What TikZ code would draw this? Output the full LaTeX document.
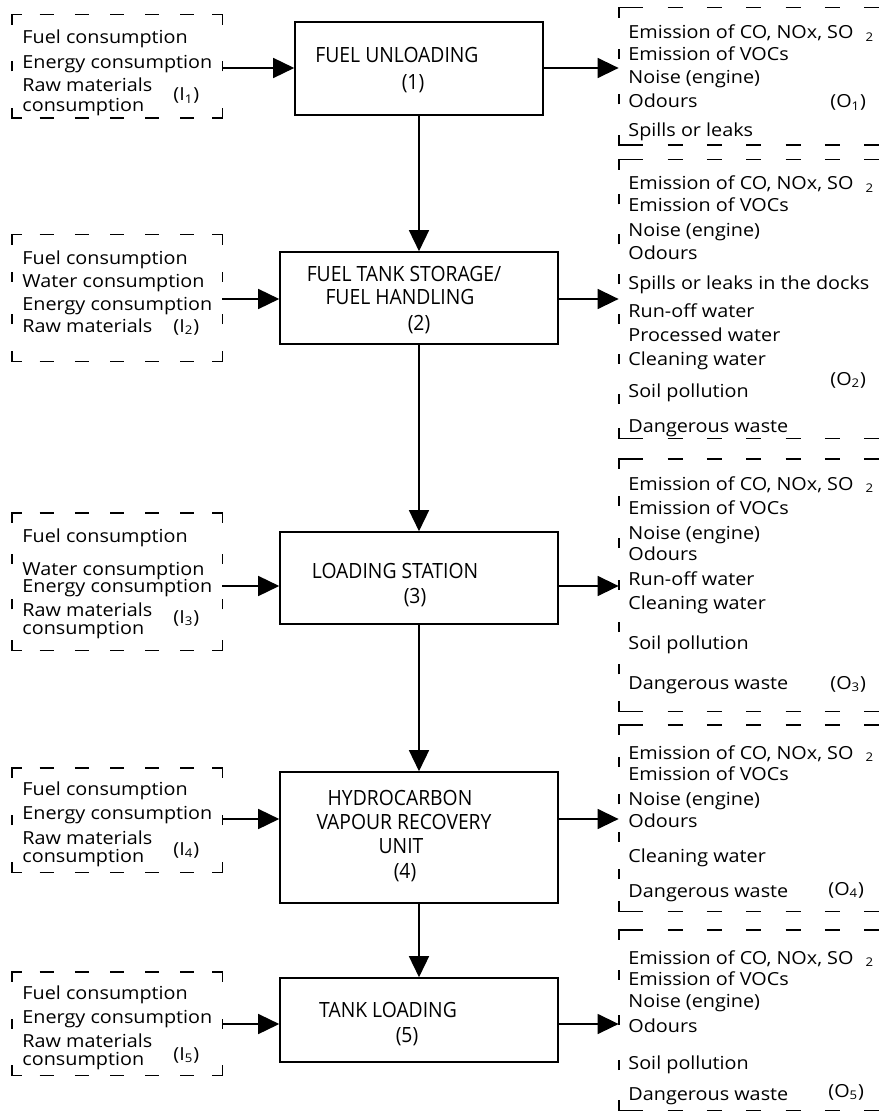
\documentclass[tikz,border=0pt]{standalone}
\usepackage{fontspec}
\setmainfont{Open Sans}[FakeStretch=1.1]
\newfontfamily\procfamily{Open Sans}[FakeStretch=0.92]
\usetikzlibrary{arrows.meta,fit,calc}

\newcommand{\itemfont}{\fontsize{9}{10}\selectfont}
\newcommand{\procfont}{\procfamily\fontsize{10.5}{12}\selectfont}
\newcommand{\SOtwo}{\hspace{6pt}\textsubscript{2}}

\tikzset{
  procbox/.style  = {draw, line width=0.8pt, inner sep=0pt},
  proctext/.style = {font=\procfont, anchor=base, inner sep=0pt},
  itemtext/.style = {font=\itemfont, anchor=base west, inner sep=0pt},
  group/.style    = {inner sep=0pt},
  frame/.style    = {line width=0.9pt},
  flow/.style     = {-{Triangle[length=10.5pt,width=10pt]}, line width=0.75pt},
}
% dashed input frame: #1 node, #2 dashes along top/bottom, #3 dashes down the sides
\newcommand{\inframe}[3]{%
  \draw[frame] ([yshift=-5pt]#1.north west) -- (#1.north west) -- ([xshift=5pt]#1.north west);
  \draw[frame] ([xshift=-5pt]#1.north east) -- (#1.north east) -- ([yshift=-5pt]#1.north east);
  \draw[frame] ([yshift=5pt]#1.south west) -- (#1.south west) -- ([xshift=5pt]#1.south west);
  \draw[frame] ([xshift=-5pt]#1.south east) -- (#1.south east) -- ([yshift=5pt]#1.south east);
  \foreach \k in {1,...,#2} {
    \pgfmathsetmacro\f{\k/(#2+1)}
    \draw[frame] ($(#1.north west)!\f!(#1.north east)$) +(-3.5pt,0pt) -- +(3.5pt,0pt);
    \draw[frame] ($(#1.south west)!\f!(#1.south east)$) +(-3.5pt,0pt) -- +(3.5pt,0pt);
  }
  \foreach \k in {1,...,#3} {
    \pgfmathsetmacro\f{\k/(#3+1)}
    \draw[frame] ($(#1.north west)!\f!(#1.south west)$) +(0pt,-2.5pt) -- +(0pt,2.5pt);
    \draw[frame] ($(#1.north east)!\f!(#1.south east)$) +(0pt,-2.5pt) -- +(0pt,2.5pt);
  }}
% dashed output frame, open to the right: #1 node, #2 dashes down the left side
\newcommand{\outframe}[2]{%
  \draw[frame] ([yshift=-5pt]#1.north west) -- (#1.north west) -- ([xshift=12pt]#1.north west);
  \draw[frame] ([yshift=5pt]#1.south west) -- (#1.south west) -- ([xshift=12pt]#1.south west);
  \foreach \k in {0,...,5} {
    \draw[frame] ([xshift={24.5pt+19.65pt*\k}]#1.north west) -- +(7.5pt,0pt);
    \draw[frame] ([xshift={24.5pt+19.65pt*\k}]#1.south west) -- +(7.5pt,0pt);
  }
  \foreach \k in {1,...,#2} {
    \pgfmathsetmacro\f{\k/(#2+1)}
    \draw[frame] ($(#1.north west)!\f!(#1.south west)$) +(0pt,-2.5pt) -- +(0pt,2.5pt);
  }}

\begin{document}
\begin{tikzpicture}[x=0.5pt, y=-0.5pt]
\path[use as bounding box, fill=white] (0,0) rectangle (882,1117);

% process chain
\node[procbox, fit={(295,22) (543,115)}]   (p1) {};
\node[procbox, fit={(280,252) (558,344)}]  (p2) {};
\node[procbox, fit={(280,532) (558,624)}]  (p3) {};
\node[procbox, fit={(280,772) (558,903)}]  (p4) {};
\node[procbox, fit={(280,978) (558,1062)}] (p5) {};

\node[proctext] (p1a) at (397,63)  {FUEL UNLOADING};
\node[proctext] (p1n) at (413,90)  {(1)};
\node[proctext] (p2a) at (404,282) {FUEL TANK STORAGE/};
\node[proctext] (p2b) at (400,305) {FUEL HANDLING};
\node[proctext] (p2n) at (419,330) {(2)};
\node[proctext] (p3a) at (395,578) {LOADING STATION};
\node[proctext] (p3n) at (415,603) {(3)};
\node[proctext] (p4a) at (400,805) {HYDROCARBON};
\node[proctext] (p4b) at (404,829) {VAPOUR RECOVERY};
\node[proctext] (p4c) at (401,853) {UNIT};
\node[proctext] (p4n) at (405,878) {(4)};
\node[proctext] (p5a) at (388,1017) {TANK LOADING};
\node[proctext] (p5n) at (407,1042) {(5)};

% input groups
\node[group, fit={(12,15) (222,118)}]    (in1) {};
\node[group, fit={(12,235) (222,361)}]   (in2) {};
\node[group, fit={(12,513) (222,650)}]   (in3) {};
\node[group, fit={(12,768) (222,872)}]   (in4) {};
\node[group, fit={(12,972) (222,1075)}]  (in5) {};

\foreach \ty/\txt [count=\k] in {44/Fuel consumption, 69/Energy consumption, 92/Raw materials, 112/consumption}
  \node[itemtext] (in1-\k) at (22,\ty) {\txt};
\node[itemtext] (in1-tag) at (173,101) {(I\textsubscript{1})};
\foreach \ty/\txt [count=\k] in {265/Fuel consumption, 288/Water consumption, 311/Energy consumption, 332/Raw materials}
  \node[itemtext] (in2-\k) at (22,\ty) {\txt};
\node[itemtext] (in2-tag) at (173,332) {(I\textsubscript{2})};
\foreach \ty/\txt [count=\k] in {542/Fuel consumption, 575/Water consumption, 592/Energy consumption, 616/Raw materials, 634/consumption}
  \node[itemtext] (in3-\k) at (22,\ty) {\txt};
\node[itemtext] (in3-tag) at (173,623) {(I\textsubscript{3})};
\foreach \ty/\txt [count=\k] in {795/Fuel consumption, 819/Energy consumption, 844/Raw materials, 862/consumption}
  \node[itemtext] (in4-\k) at (22,\ty) {\txt};
\node[itemtext] (in4-tag) at (173,855) {(I\textsubscript{4})};
\foreach \ty/\txt [count=\k] in {999/Fuel consumption, 1023/Energy consumption, 1047/Raw materials, 1065/consumption}
  \node[itemtext] (in5-\k) at (22,\ty) {\txt};
\node[itemtext] (in5-tag) at (173,1060) {(I\textsubscript{5})};

% output groups
\node[group, fit={(619,8) (882,145)}]    (out1) {};
\node[group, fit={(619,160) (882,438)}]  (out2) {};
\node[group, fit={(619,459) (882,711)}]  (out3) {};
\node[group, fit={(619,725) (882,911)}]  (out4) {};
\node[group, fit={(619,930) (882,1110)}] (out5) {};

\foreach \ty/\txt [count=\k] in {39/{Emission of CO, NOx, SO\SOtwo}, 61/Emission of VOCs, 84/Noise (engine), 108/Odours, 137/Spills or leaks}
  \node[itemtext] (out1-\k) at (628,\ty) {\txt};
\node[itemtext] (out1-tag) at (830,108) {(O\textsubscript{1})};
\foreach \ty/\txt [count=\k] in {190/{Emission of CO, NOx, SO\SOtwo}, 212/Emission of VOCs, 237/Noise (engine), 260/Odours, 290/Spills or leaks in the docks, 317/Run-off water, 341/Processed water, 365/Cleaning water, 397/Soil pollution, 432/Dangerous waste}
  \node[itemtext] (out2-\k) at (628,\ty) {\txt};
\node[itemtext] (out2-tag) at (830,385) {(O\textsubscript{2})};
\foreach \ty/\txt [count=\k] in {490/{Emission of CO, NOx, SO\SOtwo}, 514/Emission of VOCs, 539/Noise (engine), 560/Odours, 585/Run-off water, 609/Cleaning water, 649/Soil pollution, 689/Dangerous waste}
  \node[itemtext] (out3-\k) at (628,\ty) {\txt};
\node[itemtext] (out3-tag) at (830,689) {(O\textsubscript{3})};
\foreach \ty/\txt [count=\k] in {759/{Emission of CO, NOx, SO\SOtwo}, 780/Emission of VOCs, 805/Noise (engine), 827/Odours, 862/Cleaning water, 897/Dangerous waste}
  \node[itemtext] (out4-\k) at (628,\ty) {\txt};
\node[itemtext] (out4-tag) at (828,895) {(O\textsubscript{4})};
\foreach \ty/\txt [count=\k] in {964/{Emission of CO, NOx, SO\SOtwo}, 985/Emission of VOCs, 1007/Noise (engine), 1032/Odours, 1069/Soil pollution, 1100/Dangerous waste}
  \node[itemtext] (out5-\k) at (628,\ty) {\txt};
\node[itemtext] (out5-tag) at (828,1097) {(O\textsubscript{5})};

% dashed frames
\inframe{in1}{5}{1}
\inframe{in2}{5}{2}
\inframe{in3}{5}{2}
\inframe{in4}{5}{1}
\inframe{in5}{5}{1}
\outframe{out1}{2}
\outframe{out2}{6}
\outframe{out3}{5}
\outframe{out4}{4}
\outframe{out5}{3}

% rows of the side arrows
\coordinate (r1) at (0,68);
\coordinate (r2) at (0,299);
\coordinate (r3) at (0,586);
\coordinate (r4) at (0,819);
\coordinate (r5) at (0,1024);

\foreach \n in {1,...,5} {
  \draw[flow] (in\n.east |- r\n) -- (p\n.west |- r\n);
  \draw[flow] (p\n.east |- r\n) -- (out\n.west |- r\n);
}
\foreach \a/\b in {1/2,2/3,3/4,4/5}
  \draw[flow] (p\a.south) -- (p\b.north);
\end{tikzpicture}
\end{document}
